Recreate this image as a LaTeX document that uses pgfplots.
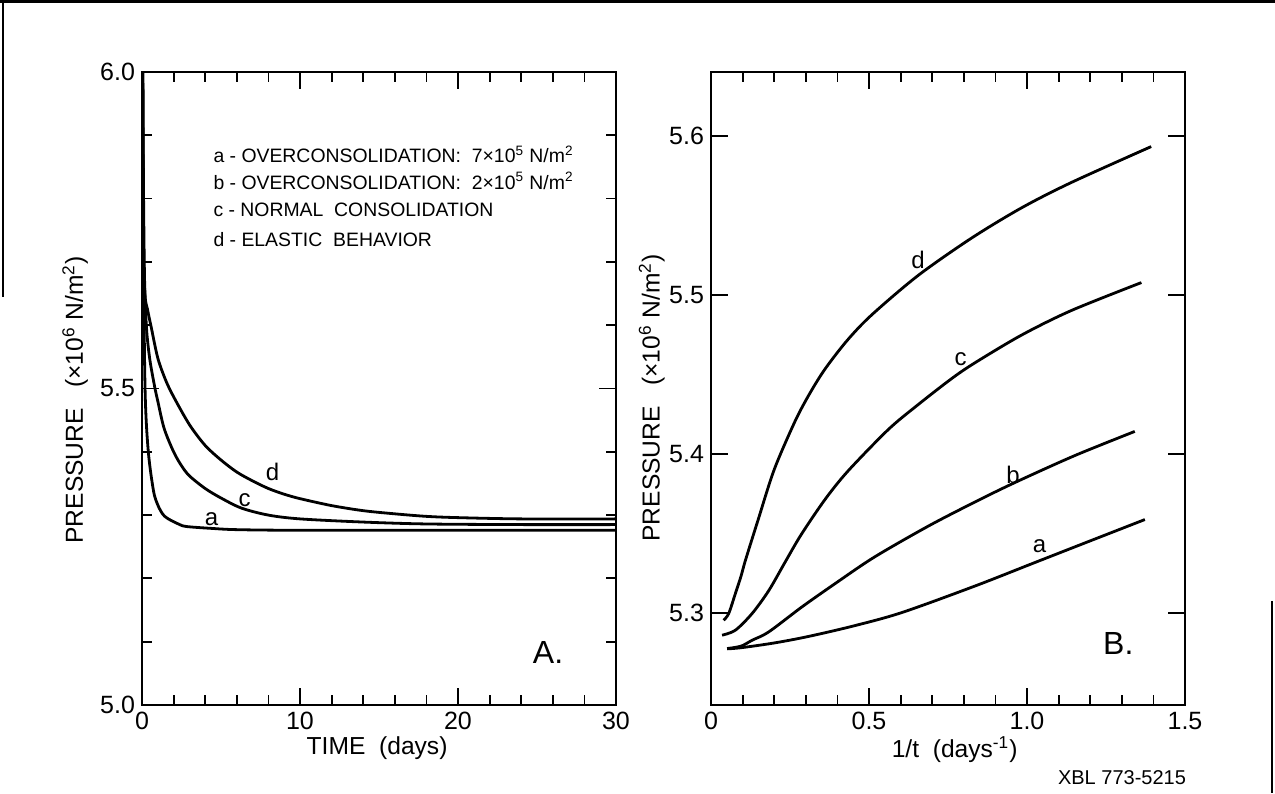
\documentclass[border=0pt]{standalone}
\usepackage{fontspec}
\setmainfont{Liberation Sans}
\usepackage{pgfplots}
\pgfplotsset{compat=1.18}

\pgfplotsset{
  panel/.style={
    scale only axis, width=237pt, height=316.5pt, anchor=south west,
    axis line style={line width=1pt},
    every tick/.style={line width=0.9pt, black},
    major tick length=8.5pt, minor tick length=5pt,
    tick label style={font=\fontsize{12.5}{14}\selectfont},
    label style={font=\fontsize{12.3}{14}\selectfont},
    cycle list={{black, solid, no marks}},
    every axis plot post/.append style={line width=1.4pt, smooth, tension=0.5},
  }
}

\begin{document}
\begin{tikzpicture}
\useasboundingbox (0,0) rectangle (637.5pt,396.5pt);
% edges of the scanned sheet
\draw[line width=1.4pt] (0,395.6pt) -- (637.5pt,395.6pt);
\draw[line width=1pt] (1.5pt,396.5pt) -- (1.5pt,248pt);
\draw[line width=1pt] (636pt,96pt) -- (636pt,0);

% ---- A: pressure vs time
\begin{axis}[panel, at={(71pt,44pt)},
    xmin=0, xmax=30, ymin=5.0, ymax=6.0,
    xtick={0,10,20,30}, xticklabels={0,10,20,30},
    minor xtick={2,4,6,8,12,14,16,18,22,24,26,28},
    ytick={5.0,5.5,6.0}, yticklabels={5.0,5.5,6.0},
    minor ytick={5.1,5.2,5.3,5.4,5.6,5.7,5.8,5.9},
    xlabel={TIME~~(days)},
    xlabel style={at={(axis description cs:0.496,-0.068)}, anchor=center},
    ylabel={PRESSURE~~~(×10\textsuperscript{6} N/m\textsuperscript{2})},
    ylabel style={at={(axis description cs:-0.141,0.482)}, anchor=center},
]
% d - elastic behavior
\addplot coordinates {(0.05,6.0)(0.1,5.8)(0.18,5.655)(0.35,5.625)(0.6,5.595)(1.0,5.548)(1.5,5.513)(2.0,5.487)(3.0,5.443)(4.0,5.41)(5.0,5.387)(6.0,5.368)(7.0,5.354)(8.0,5.342)(9.0,5.333)(10,5.326)(12,5.315)(14,5.307)(16,5.302)(18,5.298)(20,5.296)(24,5.294)(30,5.294)};
% c - normal consolidation
\addplot coordinates {(0.05,6.0)(0.1,5.72)(0.18,5.65)(0.3,5.59)(0.5,5.545)(0.8,5.503)(1.0,5.48)(1.4,5.437)(2.0,5.400)(2.5,5.378)(3.0,5.362)(4.0,5.342)(5.0,5.327)(6.3,5.311)(8.0,5.300)(10,5.294)(14,5.289)(18,5.286)(24,5.285)(30,5.285)};
% a - overconsolidation 7e5
\addplot coordinates {(0.05,6.0)(0.1,5.7)(0.2,5.493)(0.4,5.40)(0.73,5.338)(1.0,5.316)(1.3,5.302)(1.6,5.295)(2.3,5.286)(2.8,5.282)(4.4,5.279)(6,5.277)(10,5.276)(20,5.276)(30,5.276)};

\node[font=\fontsize{12}{13}\selectfont] at (axis cs:8.27,5.368) {d};
\node[font=\fontsize{12}{13}\selectfont] at (axis cs:6.5,5.323) {c};
\node[font=\fontsize{12}{13}\selectfont] at (axis cs:4.4,5.294) {a};

\begin{scope}[every node/.style={anchor=base west, inner sep=0pt, font=\fontsize{9.7}{11}\selectfont}]
\node at (axis cs:4.5,5.857) {a - OVERCONSOLIDATION:~~7×10\textsuperscript{5} N/m\textsuperscript{2}};
\node at (axis cs:4.5,5.815) {b - OVERCONSOLIDATION:~~2×10\textsuperscript{5} N/m\textsuperscript{2}};
\node at (axis cs:4.5,5.772) {c~- NORMAL~~CONSOLIDATION};
\node at (axis cs:4.5,5.724) {d - ELASTIC~~BEHAVIOR};
\end{scope}
\node[font=\fontsize{16}{18}\selectfont] at (axis cs:25.7,5.0837) {A.};
\end{axis}

% ---- B: pressure vs 1/t
\begin{axis}[panel, at={(355.5pt,44pt)},
    xmin=0, xmax=1.5, ymin=5.242, ymax=5.640,
    xtick={0,0.5,1.0,1.5}, xticklabels={0,0.5,1.0,1.5},
    minor xtick={0.1,0.2,0.3,0.4,0.6,0.7,0.8,0.9,1.1,1.2,1.3,1.4},
    ytick={5.3,5.4,5.5,5.6}, yticklabels={5.3,5.4,5.5,5.6},
    xlabel={1/t~~(days\textsuperscript{-1})},
    xlabel style={at={(axis description cs:0.514,-0.071)}, anchor=center},
    ylabel={PRESSURE~~~(×10\textsuperscript{6} N/m\textsuperscript{2})},
    ylabel style={at={(axis description cs:-0.125,0.485)}, anchor=center},
]
% d
\addplot coordinates {(0.040,5.2953)(0.056,5.2995)(0.077,5.312)(0.095,5.323)(0.109,5.333)(0.15,5.359)(0.2,5.390)(0.265,5.420)(0.31,5.437)(0.36,5.453)(0.43,5.471)(0.507,5.487)(0.655,5.512)(0.824,5.5355)(0.982,5.5545)(1.14,5.5705)(1.393,5.5931)};
% c
\addplot coordinates {(0.035,5.2859)(0.077,5.289)(0.13,5.2995)(0.183,5.314)(0.235,5.332)(0.285,5.349)(0.36,5.371)(0.433,5.389)(0.56,5.415)(0.65,5.430)(0.76,5.447)(0.834,5.457)(0.982,5.4745)(1.14,5.4900)(1.362,5.5076)};
% b
\addplot coordinates {(0.051,5.2775)(0.095,5.279)(0.13,5.2827)(0.183,5.288)(0.288,5.3037)(0.394,5.3185)(0.517,5.335)(0.687,5.3544)(0.834,5.3695)(0.961,5.3818)(1.151,5.3988)(1.341,5.414)};
% a
\addplot coordinates {(0.051,5.2773)(0.095,5.278)(0.2,5.281)(0.306,5.285)(0.447,5.2915)(0.602,5.300)(0.834,5.3167)(1.024,5.3315)(1.204,5.3455)(1.373,5.3586)};

\node[font=\fontsize{12}{13}\selectfont] at (axis cs:0.655,5.5216) {d};
\node[font=\fontsize{12}{13}\selectfont] at (axis cs:0.79,5.4597) {c};
\node[font=\fontsize{12}{13}\selectfont] at (axis cs:0.956,5.3864) {b};
\node[font=\fontsize{12}{13}\selectfont] at (axis cs:1.04,5.3418) {a};
\node[font=\fontsize{16}{18}\selectfont] at (axis cs:1.289,5.2806) {B.};
\end{axis}

\node[font=\fontsize{10}{11}\selectfont] at (561pt,7.5pt) {XBL 773-5215};
\end{tikzpicture}
\end{document}
